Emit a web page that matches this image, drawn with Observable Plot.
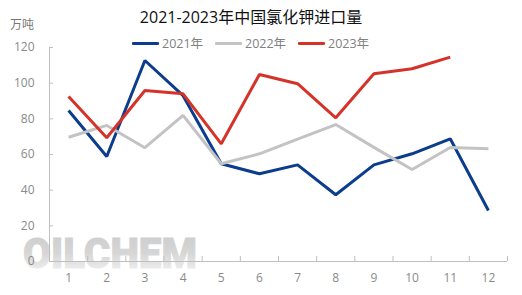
<!DOCTYPE html>
<html>
<head>
<meta charset="utf-8">
<script src="https://cdn.jsdelivr.net/npm/d3@7"></script>
<script src="https://cdn.jsdelivr.net/npm/@observablehq/plot@0.6"></script>
<style>
  html, body { margin: 0; padding: 0; background: #fff; }
  #wrap { position: relative; width: 522px; height: 295px; overflow: hidden; font-family: "Open Sans", "Noto Sans CJK SC", sans-serif; }
  #wm { position: absolute; left: 0; top: 0; }
  #chart { position: absolute; left: 0; top: 0; }
  .title { position: absolute; left: 0; width: 502px; top: 5px; text-align: center; font-size: 16px; color: #111; line-height: 24px; }
  .unit { position: absolute; left: 10px; top: 16px; font-size: 12px; color: #777; line-height: 18px; }
  .legend { position: absolute; top: 35px; left: 0; width: 522px; height: 18px; }
  .item { position: absolute; top: 0; font-size: 12.5px; color: #808080; line-height: 18px; white-space: nowrap; }
  .sw { display: inline-block; width: 27px; height: 3px; vertical-align: middle; margin-right: 3px; position: relative; top: -1px; border-radius: 1px; }
</style>
</head>
<body>
<div id="wrap">
  <svg id="wm" width="522" height="295">
    <defs>
      <linearGradient id="wmg" x1="0" y1="0" x2="0" y2="1">
        <stop offset="0" stop-color="#cbcbcb"/>
        <stop offset="0.5" stop-color="#d6d6d6"/>
        <stop offset="1" stop-color="#f8f8f8"/>
      </linearGradient>
    </defs>
    <text x="23" y="268" font-family="Roboto, 'DejaVu Sans', sans-serif" font-weight="900" font-size="42" textLength="174" lengthAdjust="spacingAndGlyphs" fill="url(#wmg)" stroke="url(#wmg)" stroke-width="1">OILCHEM</text>
  </svg>
  <div id="chart"></div>
  <div class="title">2021-2023年中国氯化钾进口量</div>
  <div class="unit">万吨</div>
  <div class="legend" id="legend"></div>
</div>
<script>
const months = [1, 2, 3, 4, 5, 6, 7, 8, 9, 10, 11, 12];
const monthLabels = ["1", "2", "3", "4", "5", "6", "7", "8", "9", "10", "11", "12"];
const series = ["2021年", "2022年", "2023年"];
const colors = ["#0b3d8c", "#c3c3c3", "#d5332a"];
const y2021 = [84.7, 58.9, 112.7, 93.0, 54.8, 49.2, 54.2, 37.4, 54.2, 60.4, 68.8, 28.6];
const y2022 = [69.7, 76.3, 63.8, 81.9, 54.8, 60.4, 68.6, 76.8, 64.0, 51.6, 63.9, 63.2];
const y2023 = [92.5, 69.4, 95.9, 94.0, 66.0, 104.9, 99.7, 80.6, 105.3, 108.1, 114.6];
const yTicks = [0, 20, 40, 60, 80, 100, 120];

const values = [y2021, y2022, y2023];
const rows = [];
values.forEach((arr, s) => arr.forEach((v, i) => rows.push({series: series[s], month: months[i], value: v})));

const bandEdges = d3.range(months.length + 1).map(i => months[0] - 0.5 + i);
const axisColor = "#bfbfbf";
const labelColor = "#8a8a8a";

const chart = Plot.plot({
  width: 522,
  height: 295,
  marginLeft: 49,
  marginRight: 15,
  marginTop: 47,
  marginBottom: 34,
  style: {background: "transparent", fontFamily: "'Open Sans', 'Noto Sans CJK SC', sans-serif", fontSize: "12px"},
  x: {type: "linear", domain: [0.5, 12.5], axis: null},
  y: {domain: [0, 120], axis: null},
  color: {domain: series, range: colors},
  marks: [
    Plot.ruleX([0.5], {stroke: axisColor, strokeWidth: 1}),
    Plot.ruleY([0], {stroke: axisColor, strokeWidth: 1}),
    Plot.axisY({ticks: yTicks, tickSize: 4, dx: 4, tickFormat: () => "", label: null, stroke: axisColor, strokeOpacity: 1}),
    Plot.axisY({ticks: yTicks, tickSize: 0, tickPadding: 15, label: null, fill: labelColor, fontSize: 12}),
    Plot.axisX({ticks: bandEdges, tickSize: 5, dy: -5, tickFormat: () => "", label: null, stroke: axisColor, strokeOpacity: 1}),
    Plot.axisX({ticks: months, tickSize: 0, tickPadding: 12, label: null, tickFormat: (d) => monthLabels[months.indexOf(d)], fill: labelColor, fontSize: 12}),
    Plot.line(rows, {x: "month", y: "value", z: "series", stroke: "series", strokeWidth: 3, strokeLinejoin: "miter", strokeLinecap: "butt", curve: "linear"})
  ]
});
document.getElementById("chart").appendChild(chart);

const legend = document.getElementById("legend");
const lefts = [132, 215, 298];
series.forEach((s, i) => {
  const el = document.createElement("div");
  el.className = "item";
  el.style.left = lefts[i] + "px";
  el.innerHTML = `<span class="sw" style="background:${colors[i]}"></span>${s}`;
  legend.appendChild(el);
});
</script>
</body>
</html>
